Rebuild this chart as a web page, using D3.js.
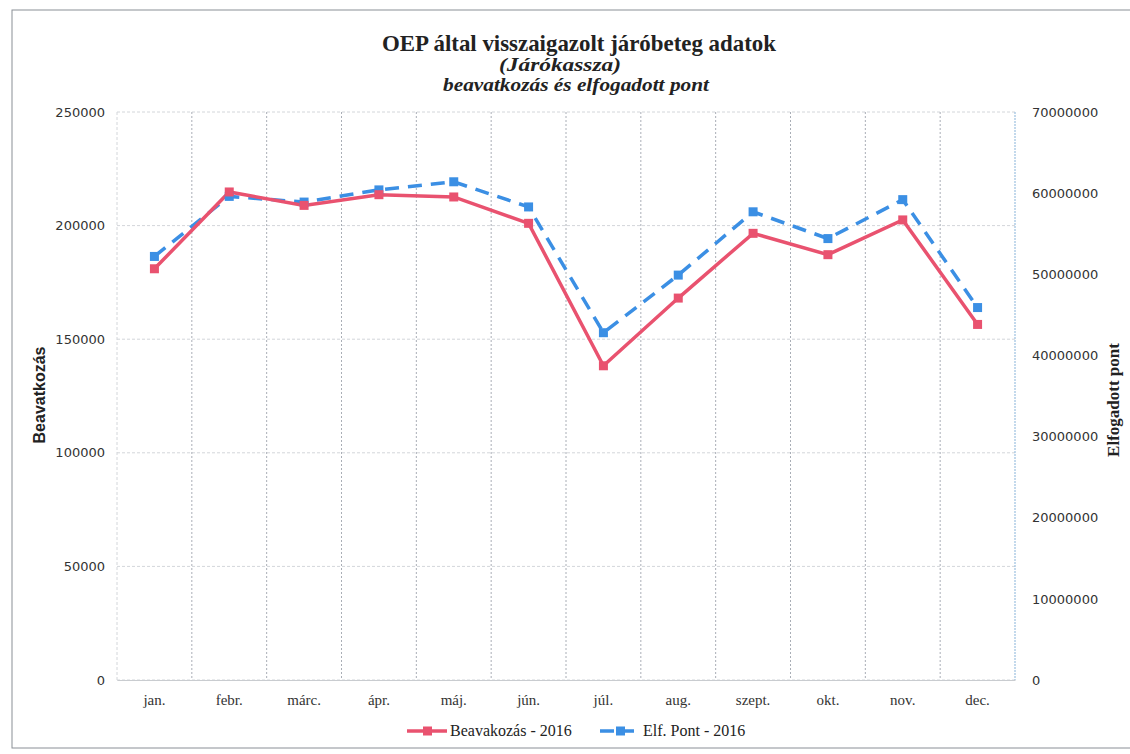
<!DOCTYPE html>
<html>
<head>
<meta charset="utf-8">
<script src="https://cdn.jsdelivr.net/npm/d3@7"></script>
<style>
  body { margin: 0; background: #fff; }
  svg { display: block; }
</style>
</head>
<body>
<svg width="1130" height="754"></svg>
<script>
// Data
const months = ["jan.", "febr.", "márc.", "ápr.", "máj.", "jún.", "júl.", "aug.", "szept.", "okt.", "nov.", "dec."];
const beavatkozas = [181000, 214800, 208900, 213600, 212600, 201000, 138300, 168100, 196600, 187200, 202500, 156500];
const elfPont = [52200000, 59600000, 58900000, 60400000, 61400000, 58300000, 42800000, 49900000, 57700000, 54400000, 59200000, 45900000];
const leftTicks = [0, 50000, 100000, 150000, 200000, 250000];
const rightTicks = [0, 10000000, 20000000, 30000000, 40000000, 50000000, 60000000, 70000000];

const red = "#e9526f";
const blue = "#3b8fe4";

// Plot area
const margin = { top: 112, right: 115, bottom: 74, left: 117 };
const W = 1130, H = 754;
const width = W - margin.left - margin.right;
const height = H - margin.top - margin.bottom;

const svg = d3.select("svg");

// outer border (right edge falls off the page, as in the scan)
svg.append("rect")
  .attr("x", 12).attr("y", 10)
  .attr("width", 1130).attr("height", 738)
  .attr("fill", "none")
  .attr("stroke", "#8a8f96")
  .attr("stroke-width", 1);

const g = svg.append("g")
  .attr("transform", `translate(${margin.left}, ${margin.top})`);

// Scales
const x = d3.scaleBand().domain(months).range([0, width]);
const yL = d3.scaleLinear().domain([0, 250000]).range([height, 0]);
const yR = d3.scaleLinear().domain([0, 70000000]).range([height, 0]);

// horizontal gridlines
g.append("g")
  .selectAll("line")
  .data(leftTicks)
  .join("line")
  .attr("x1", 0).attr("x2", width)
  .attr("y1", d => yL(d)).attr("y2", d => yL(d))
  .attr("stroke", "#d3d6da")
  .attr("stroke-dasharray", "3,2")
  .attr("stroke-width", 1);

// vertical gridlines at category boundaries
g.append("g")
  .selectAll("line")
  .data(months.slice(1))
  .join("line")
  .attr("x1", d => x(d)).attr("x2", d => x(d))
  .attr("y1", 0).attr("y2", height)
  .attr("stroke", "#a9aeb6")
  .attr("stroke-dasharray", "2,2")
  .attr("stroke-width", 1);

// left edge
g.append("line")
  .attr("x1", 0).attr("x2", 0).attr("y1", 0).attr("y2", height)
  .attr("stroke", "#d3d6da").attr("stroke-dasharray", "3,2");

// right axis line
g.append("line")
  .attr("x1", width).attr("x2", width).attr("y1", 0).attr("y2", height)
  .attr("stroke", "#9cc0e0").attr("stroke-dasharray", "2,1").attr("stroke-width", 1.2);

// Axes
const xAxis = g.append("g")
  .attr("transform", `translate(0, ${height})`)
  .call(d3.axisBottom(x).tickSize(0).tickPadding(14));
xAxis.select(".domain").attr("stroke", "#c9ccd0");
xAxis.selectAll("text")
  .attr("font-family", "Liberation Serif, serif")
  .attr("font-size", 15)
  .attr("fill", "#333");

const yAxisL = g.append("g")
  .call(d3.axisLeft(yL).tickValues(leftTicks).tickSize(0).tickPadding(12).tickFormat(d3.format("d")));
yAxisL.select(".domain").remove();
yAxisL.selectAll("text")
  .attr("font-family", "DejaVu Sans, sans-serif")
  .attr("font-size", 13)
  .attr("fill", "#333");

const yAxisR = g.append("g")
  .attr("transform", `translate(${width}, 0)`)
  .call(d3.axisRight(yR).tickValues(rightTicks).tickSize(0).tickPadding(17).tickFormat(d3.format("d")));
yAxisR.select(".domain").remove();
yAxisR.selectAll("text")
  .attr("font-family", "DejaVu Sans, sans-serif")
  .attr("font-size", 13)
  .attr("fill", "#333");

// Lines
const cx = d => x(d) + x.bandwidth() / 2;

const lineL = d3.line()
  .x((d, i) => cx(months[i]))
  .y(d => yL(d));
const lineR = d3.line()
  .x((d, i) => cx(months[i]))
  .y(d => yR(d));

g.append("path")
  .datum(elfPont)
  .attr("fill", "none")
  .attr("stroke", blue)
  .attr("stroke-width", 3.5)
  .attr("stroke-dasharray", "14,9")
  .attr("d", lineR);

g.append("path")
  .datum(beavatkozas)
  .attr("fill", "none")
  .attr("stroke", red)
  .attr("stroke-width", 3.5)
  .attr("d", lineL);

// Markers
g.append("g")
  .selectAll("rect")
  .data(elfPont)
  .join("rect")
  .attr("x", (d, i) => cx(months[i]) - 4.5)
  .attr("y", d => yR(d) - 4.5)
  .attr("width", 9).attr("height", 9)
  .attr("fill", blue);

g.append("g")
  .selectAll("rect")
  .data(beavatkozas)
  .join("rect")
  .attr("x", (d, i) => cx(months[i]) - 4.5)
  .attr("y", d => yL(d) - 4.5)
  .attr("width", 9).attr("height", 9)
  .attr("fill", red);

// Titles
const title = svg.append("g").attr("text-anchor", "middle")
  .attr("font-family", "Liberation Serif, serif")
  .attr("fill", "#222");
title.append("text")
  .attr("x", 579).attr("y", 51)
  .attr("font-size", 23).attr("font-weight", "bold")
  .attr("textLength", 394).attr("lengthAdjust", "spacingAndGlyphs")
  .text("OEP által visszaigazolt járóbeteg adatok");
title.append("text")
  .attr("x", 560).attr("y", 71)
  .attr("font-size", 18).attr("font-weight", "bold").attr("font-style", "italic")
  .attr("textLength", 122).attr("lengthAdjust", "spacingAndGlyphs")
  .text("(Járókassza)");
title.append("text")
  .attr("x", 576).attr("y", 91)
  .attr("font-size", 19).attr("font-weight", "bold").attr("font-style", "italic")
  .attr("textLength", 266).attr("lengthAdjust", "spacingAndGlyphs")
  .text("beavatkozás és elfogadott pont");

// Axis titles
svg.append("text")
  .attr("transform", "translate(45, 395) rotate(-90)")
  .attr("text-anchor", "middle")
  .attr("font-family", "Liberation Sans, sans-serif")
  .attr("font-size", 16).attr("font-weight", "bold")
  .attr("fill", "#222")
  .text("Beavatkozás");

svg.append("text")
  .attr("transform", "translate(1119, 400) rotate(-90)")
  .attr("text-anchor", "middle")
  .attr("font-family", "Liberation Serif, serif")
  .attr("font-size", 17).attr("font-weight", "bold")
  .attr("fill", "#222")
  .text("Elfogadott pont");

// Legend
const legend = svg.append("g").attr("transform", "translate(0, 731)");
const legendItems = [
  { label: "Beavakozás - 2016", color: red, dash: null, x: 407 },
  { label: "Elf. Pont - 2016", color: blue, dash: "14,6", x: 600 }
];
legendItems.forEach(item => {
  legend.append("line")
    .attr("x1", item.x).attr("x2", item.x + 40)
    .attr("y1", 0).attr("y2", 0)
    .attr("stroke", item.color).attr("stroke-width", 3.5)
    .attr("stroke-dasharray", item.dash);
  legend.append("rect")
    .attr("x", item.x + 16).attr("y", -4.5)
    .attr("width", 9).attr("height", 9)
    .attr("fill", item.color);
  legend.append("text")
    .attr("x", item.x + 43).attr("y", 5)
    .attr("font-family", "Liberation Serif, serif")
    .attr("font-size", 16)
    .attr("fill", "#222")
    .text(item.label);
});
</script>
</body>
</html>
